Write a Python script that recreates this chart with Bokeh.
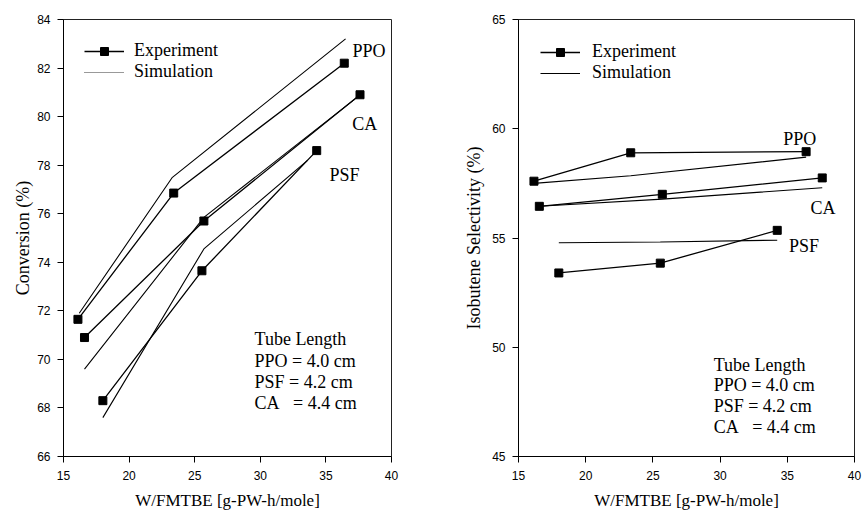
from bokeh.plotting import figure
from bokeh.layouts import row
from bokeh.models import Range1d, Label, Legend, LegendItem, FixedTicker
from bokeh.embed import file_html
from bokeh.resources import INLINE

# ---------------- data: conversion (left panel) ----------------
conv_ppo_exp_x = [16.1, 23.4, 36.4]
conv_ppo_exp_y = [71.65, 76.85, 82.2]
conv_ppo_sim_x = [16.2, 23.3, 36.5]
conv_ppo_sim_y = [71.9, 77.5, 83.2]
conv_ca_exp_x = [16.6, 25.7, 37.6]
conv_ca_exp_y = [70.9, 75.7, 80.9]
conv_ca_sim_x = [16.6, 25.7, 37.4]
conv_ca_sim_y = [69.6, 75.85, 80.8]
conv_psf_exp_x = [18.0, 25.55, 34.3]
conv_psf_exp_y = [68.3, 73.65, 78.6]
conv_psf_sim_x = [18.0, 25.7, 33.6]
conv_psf_sim_y = [67.6, 74.55, 78.2]

# ---------------- data: isobutene selectivity (right panel) ----------------
sel_ppo_exp_x = [16.15, 23.35, 36.4]
sel_ppo_exp_y = [57.6, 58.9, 58.95]
sel_ppo_sim_x = [16.15, 23.35, 36.4]
sel_ppo_sim_y = [57.5, 57.85, 58.7]
sel_ca_exp_x = [16.55, 25.7, 37.6]
sel_ca_exp_y = [56.45, 57.0, 57.75]
sel_ca_sim_x = [16.55, 25.7, 37.6]
sel_ca_sim_y = [56.45, 56.78, 57.3]
sel_psf_exp_x = [18.0, 25.55, 34.25]
sel_psf_exp_y = [53.4, 53.85, 55.35]
sel_psf_sim_x = [18.0, 25.55, 34.25]
sel_psf_sim_y = [54.78, 54.82, 54.9]

x_ticks = [15, 20, 25, 30, 35, 40]
conv_ticks = [66, 68, 70, 72, 74, 76, 78, 80, 82, 84]
sel_ticks = [45, 50, 55, 60, 65]

x_title = "W/FMTBE [g-PW-h/mole]"
tube_lines = ["Tube Length", "PPO = 4.0 cm", "PSF = 4.2 cm", "CA\u00a0\u00a0\u00a0= 4.4 cm"]

SERIF = "Liberation Serif"
SANS = "Liberation Sans"


def make_fig(width, left, right, yr, yticks, ylabel, label_standoff):
    p = figure(width=width, height=512, output_backend="svg", toolbar_location=None,
               x_range=Range1d(15, 40), y_range=Range1d(*yr),
               min_border_left=left, min_border_right=right,
               min_border_top=19, min_border_bottom=56)
    p.grid.visible = False
    p.outline_line_color = "#222222"
    p.outline_line_width = 1
    p.background_fill_color = "white"
    p.border_fill_color = "white"
    for ax in (p.xaxis[0], p.yaxis[0]):
        ax.axis_line_color = "black"
        ax.major_tick_line_color = "black"
        ax.major_tick_out = 6
        ax.major_tick_in = 0
        ax.minor_tick_line_color = None
        ax.major_label_text_font = SANS
        ax.major_label_text_font_size = "12px"
        ax.major_label_text_color = "black"
        ax.axis_label_text_font = SERIF
        ax.axis_label_text_font_style = "normal"
        ax.axis_label_text_color = "black"
    p.xaxis.ticker = FixedTicker(ticks=x_ticks)
    p.yaxis.ticker = FixedTicker(ticks=yticks)
    p.xaxis.major_label_standoff = 8
    p.yaxis.major_label_standoff = 7
    p.yaxis.axis_label = ylabel
    p.yaxis.axis_label_text_font_size = "18px"
    p.yaxis.axis_label_standoff = label_standoff
    p.xaxis.axis_label = x_title
    p.xaxis.axis_label_text_font_size = "17px"
    p.xaxis.axis_label_standoff = 8
    return p


def add_series(p, ex, ey, sx, sy):
    le = p.line(ex, ey, line_color="black", line_width=1.3)
    me = p.scatter(ex, ey, marker="square", size=8, fill_color="black", line_color="black")
    ls = p.line(sx, sy, line_color="black", line_width=1.1)
    return le, me, ls


def add_text(p, x, y, t):
    p.add_layout(Label(x=x, y=y, text=t, text_font=SERIF, text_font_size="18px",
                       text_baseline="middle", text_align="left", text_color="black"))


def make_legend(items, margin, standoff):
    return Legend(items=items, location="top_left", margin=margin, padding=0, spacing=-2,
                  glyph_width=40, glyph_height=20, label_height=20, label_standoff=standoff,
                  border_line_color=None, background_fill_alpha=0,
                  label_text_font=SERIF, label_text_font_size="18px", label_text_color="black")


# ---------------- left panel ----------------
p1 = make_fig(438, 63, 47, (66, 84), conv_ticks, "Conversion (%)", 1)
le, me, ls = add_series(p1, conv_ppo_exp_x, conv_ppo_exp_y, conv_ppo_sim_x, conv_ppo_sim_y)
add_series(p1, conv_ca_exp_x, conv_ca_exp_y, conv_ca_sim_x, conv_ca_sim_y)
add_series(p1, conv_psf_exp_x, conv_psf_exp_y, conv_psf_sim_x, conv_psf_sim_y)
key_dot = p1.line([float("nan")], [float("nan")], line_color="#333333", line_width=1,
                  line_dash="1 1")
p1.add_layout(make_legend([LegendItem(label="Experiment", renderers=[le, me]),
                           LegendItem(label="Simulation", renderers=[key_dot])], 21, 10))
add_text(p1, 37.03, 82.71, "PPO")
add_text(p1, 37.0, 79.7, "CA")
add_text(p1, 35.27, 77.6, "PSF")
for t, yy in zip(tube_lines, [70.84, 69.94, 69.05, 68.2]):
    add_text(p1, 29.56, yy, t)

# ---------------- right panel ----------------
p2 = make_fig(424, 80, 8, (45, 65), sel_ticks, "Isobutene Selectivity (%)", 5)
le2, me2, ls2 = add_series(p2, sel_ppo_exp_x, sel_ppo_exp_y, sel_ppo_sim_x, sel_ppo_sim_y)
add_series(p2, sel_ca_exp_x, sel_ca_exp_y, sel_ca_sim_x, sel_ca_sim_y)
add_series(p2, sel_psf_exp_x, sel_psf_exp_y, sel_psf_sim_x, sel_psf_sim_y)
p2.add_layout(make_legend([LegendItem(label="Experiment", renderers=[le2, me2]),
                           LegendItem(label="Simulation", renderers=[ls2])], 22, 12))
add_text(p2, 34.69, 59.52, "PPO")
add_text(p2, 36.72, 56.38, "CA")
add_text(p2, 35.13, 54.63, "PSF")
for t, yy in zip(tube_lines, [49.21, 48.29, 47.30, 46.33]):
    add_text(p2, 29.52, yy, t)

layout = row(p1, p2)
open("out.html", "w").write(file_html(layout, INLINE))
